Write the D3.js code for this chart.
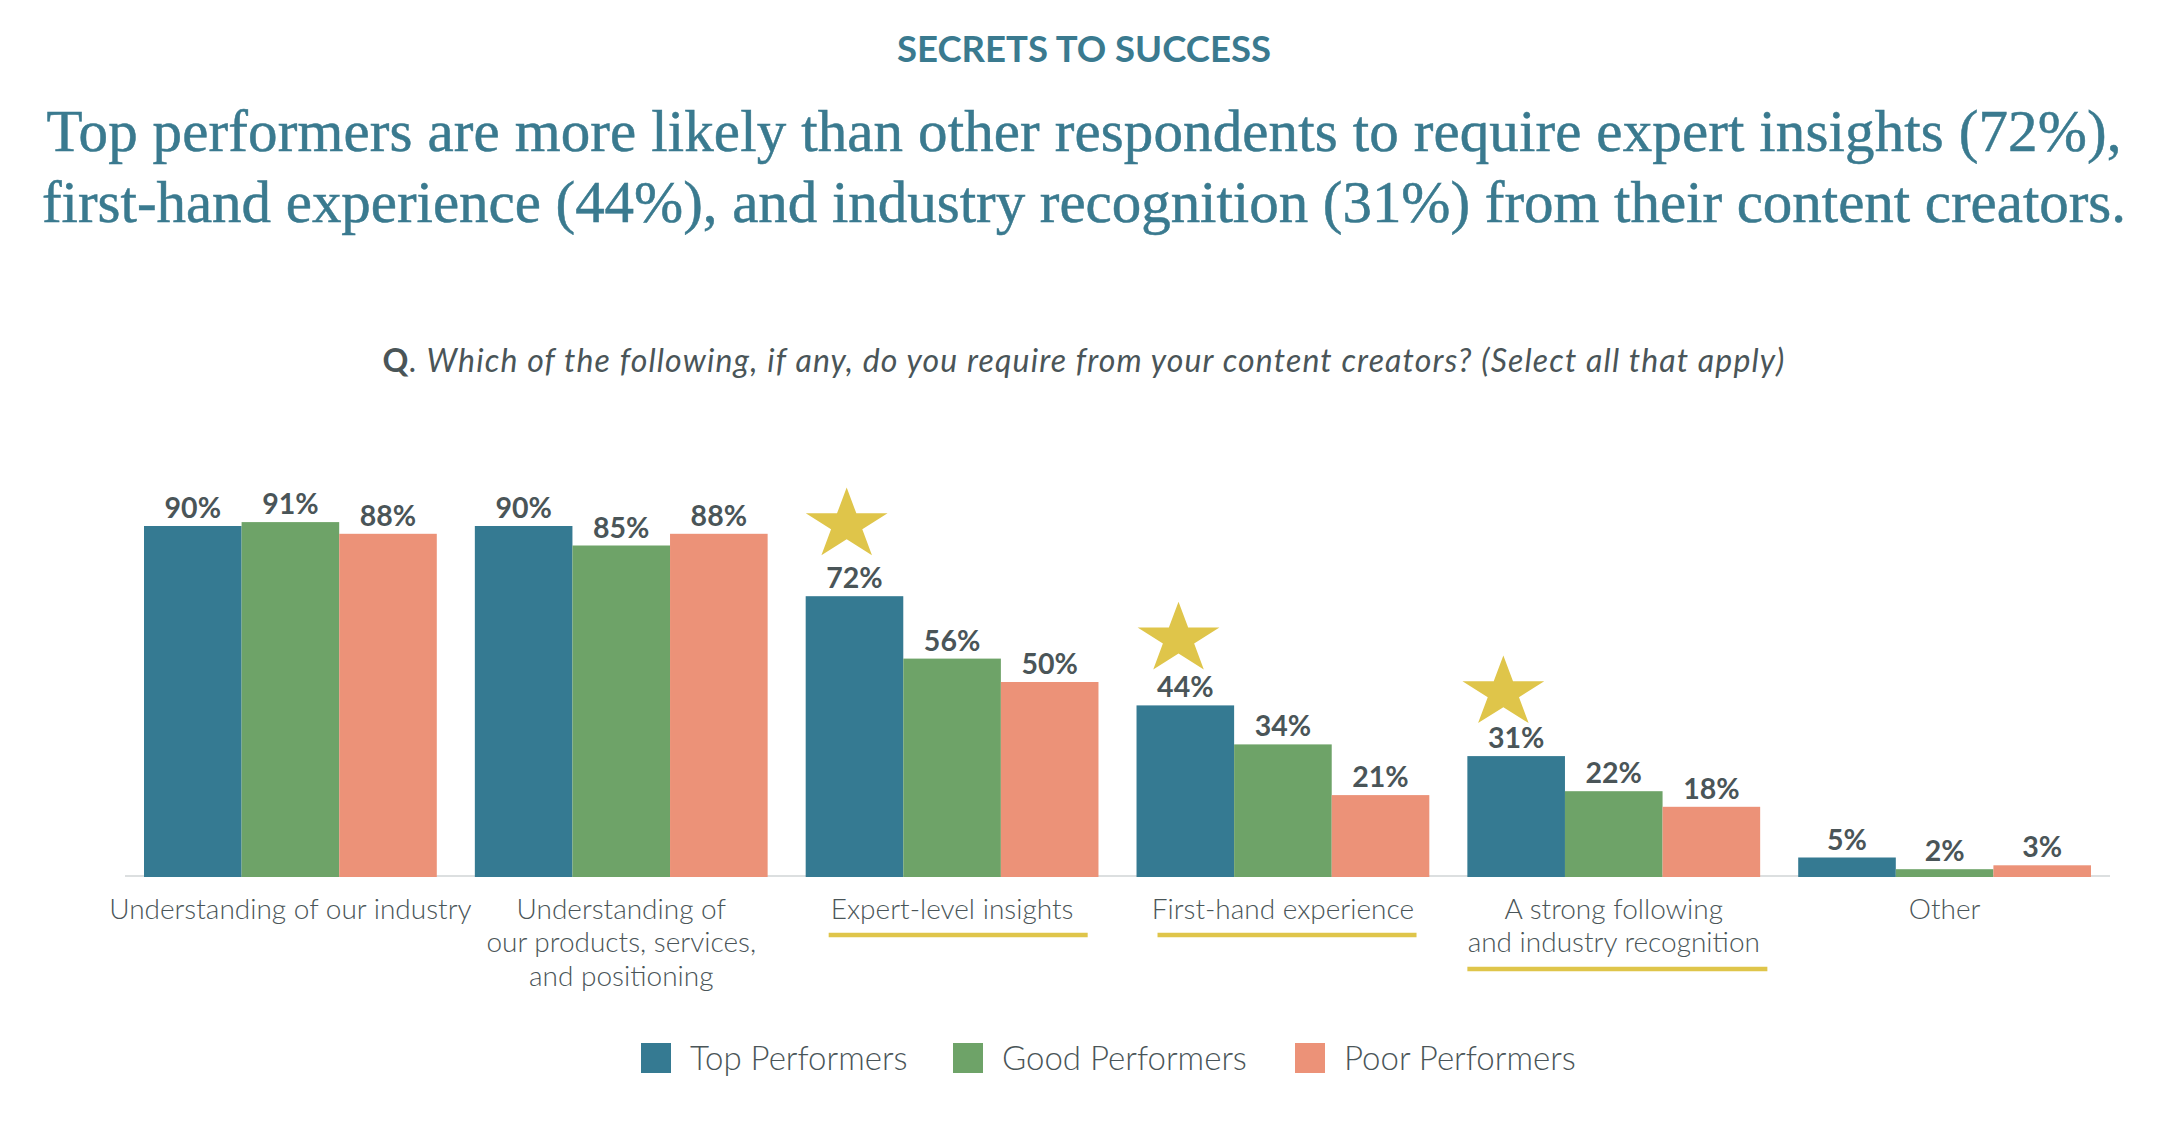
<!DOCTYPE html>
<html>
<head>
<meta charset="utf-8">
<style>
  html, body { margin: 0; background: #fff; }
  svg { display: block; }
  text { font-family: Lato, sans-serif; }
</style>
<script src="https://cdn.jsdelivr.net/npm/d3@7"></script>
</head>
<body>
<svg></svg>
<script>
const categories = ["industry", "products", "insights", "experience", "recognition", "other"]
const categoryLabels = [
  ["Understanding of our industry"],
  ["Understanding of", "our products, services,", "and positioning"],
  ["Expert-level insights"],
  ["First-hand experience"],
  ["A strong following", "and industry recognition"],
  ["Other"]
]
const seriesNames = ["Top Performers", "Good Performers", "Poor Performers"]
const topPerformers = [90, 90, 72, 44, 31, 5]
const goodPerformers = [91, 85, 56, 34, 22, 2]
const poorPerformers = [88, 88, 50, 21, 18, 3]
const starred = ["insights", "experience", "recognition"]

const kicker = "SECRETS TO SUCCESS"
const headline = [
  "Top performers are more likely than other respondents to require expert insights (72%),",
  "first-hand experience (44%), and industry recognition (31%) from their content creators."
]
const question = "Which of the following, if any, do you require from your content creators? (Select all that apply)"

const width = 2180
const height = 1130
const baseline = 877
const colors = ["#357a92", "#6ea368", "#ec9278"]
const gold = "#dfc54a"
const dark = "#4a5558"
const teal = "#3a7a8f"

// hand placed in the original, so not quite the same per category
const starOffset = { insights: [41, 41], experience: [42, 36], recognition: [36, 33] }
const underlineOffset = { insights: [23, 282, 935], experience: [21, 280, 935], recognition: [0, 300, 969] }
const headlineWidths = [2075, 2084]

const svg = d3.select("svg").attr("width", width).attr("height", height)

const x0 = d3.scaleBand().domain(categories).range([144, 2091]).paddingInner(0.115)
const x1 = d3.scaleBand().domain(seriesNames).range([0, x0.bandwidth()])
const y = d3.scaleLinear().domain([0, 100]).range([baseline, 487])

const seriesValues = [topPerformers, goodPerformers, poorPerformers]

// header
svg.append("text")
  .attr("x", 1084).attr("y", 62)
  .attr("text-anchor", "middle")
  .attr("font-size", 36.5).attr("font-weight", 700)
  .attr("fill", teal)
  .text(kicker)

svg.selectAll(".headline")
  .data(headline)
  .join("text")
  .attr("class", "headline")
  .attr("x", 1084)
  .attr("y", (d, i) => 151 + i * 71)
  .attr("text-anchor", "middle")
  .attr("font-size", 59)
  .attr("textLength", (d, i) => headlineWidths[i])
  .style("font-family", "'Liberation Serif', serif")
  .attr("fill", teal)
  .attr("stroke", teal).attr("stroke-width", 0.5)
  .text(d => d)

const q = svg.append("text")
  .attr("x", 1084).attr("y", 372)
  .attr("text-anchor", "middle")
  .attr("font-size", 32)
  .attr("letter-spacing", 1.15)
  .attr("fill", dark)
q.append("tspan").attr("font-weight", 700).text("Q")
q.append("tspan").attr("font-style", "italic").attr("font-weight", 400).text(". " + question)

// x axis, labels go in as tspans on the tick text
const axis = svg.append("g")
  .attr("transform", `translate(0,${baseline})`)
  .call(d3.axisBottom(x0).tickSize(0).tickFormat(""))
axis.select(".domain").remove()
axis.append("line")
  .attr("x1", 125).attr("x2", 2110)
  .attr("y1", -1).attr("y2", -1)
  .attr("stroke", "#dcdfe0").attr("stroke-width", 2)
axis.selectAll(".tick text")
  .attr("y", 0).attr("dy", null)
  .style("font-family", "Lato, sans-serif")
  .attr("font-size", 28).attr("font-weight", 300)
  .attr("fill", dark)
  .each(function(d, i) {
    d3.select(this).selectAll("tspan")
      .data(categoryLabels[i])
      .join("tspan")
      .attr("x", 0)
      .attr("y", (t, j) => 41.5 + j * 33.7)
      .text(t => t)
  })

// bars
const groups = svg.selectAll(".group")
  .data(categories)
  .join("g")
  .attr("class", "group")
  .attr("transform", d => `translate(${x0(d)},0)`)

seriesNames.forEach((name, s) => {
  groups.append("rect")
    .attr("x", x1(name))
    .attr("width", x1.bandwidth())
    .attr("y", (d, i) => y(seriesValues[s][i]))
    .attr("height", (d, i) => baseline - y(seriesValues[s][i]))
    .attr("fill", colors[s])

  groups.append("text")
    .attr("x", x1(name) + x1.bandwidth() / 2)
    .attr("y", (d, i) => y(seriesValues[s][i]) - 8)
    .attr("text-anchor", "middle")
    .attr("font-size", 28.5).attr("font-weight", 700)
    .attr("fill", dark)
    .text((d, i) => seriesValues[s][i] + "%")
})

// stars and underlines for the highlighted categories
const star = d3.symbol().type(d3.symbolStar).size(2076)
svg.selectAll(".star")
  .data(starred)
  .join("path")
  .attr("class", "star")
  .attr("d", star())
  .attr("fill", gold)
  .attr("transform", d => {
    const top = y(topPerformers[categories.indexOf(d)])
    const [dx, gap] = starOffset[d]
    return `translate(${x0(d) + dx},${top - gap - 43 * 0.87 * Math.cos(Math.PI / 5)}) scale(1,0.87)`
  })

svg.selectAll(".underline")
  .data(starred)
  .join("line")
  .attr("class", "underline")
  .attr("x1", d => x0(d) + underlineOffset[d][0])
  .attr("x2", d => x0(d) + underlineOffset[d][1])
  .attr("y1", d => underlineOffset[d][2])
  .attr("y2", d => underlineOffset[d][2])
  .attr("stroke", gold).attr("stroke-width", 4.5)

// legend
const legendSwatchX = [641, 953, 1295]
const legend = svg.selectAll(".legend")
  .data(seriesNames)
  .join("g")
  .attr("class", "legend")
  .attr("transform", (d, i) => `translate(${legendSwatchX[i]},1043)`)
legend.append("rect")
  .attr("width", 30).attr("height", 30)
  .attr("fill", (d, i) => colors[i])
legend.append("text")
  .attr("x", 49).attr("y", 27)
  .attr("font-size", 33).attr("font-weight", 300)
  .attr("fill", dark)
  .text(d => d)
</script>
</body>
</html>
